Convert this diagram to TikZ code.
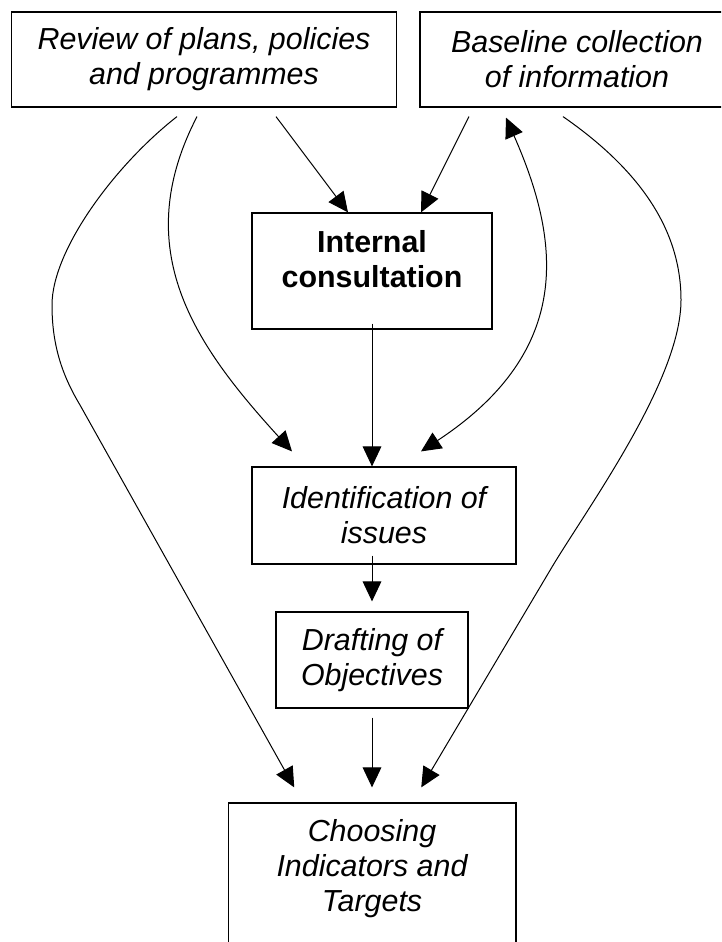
\documentclass[tikz,border=0pt]{standalone}
\usepackage{fontspec}
\setmainfont{Liberation Sans}
\usepackage{tikz}
\usetikzlibrary{arrows.meta}
\usetikzlibrary{calc}

\begin{document}
\begin{tikzpicture}[x=0.75pt,y=0.75pt,yscale=-1,xscale=1]
  \tikzstyle{arrow} = [line width=0.75pt,-{Triangle[length=15pt,width=14pt]}]
  \tikzstyle{twoway} = [line width=0.75pt,{Triangle[length=15pt,width=14pt]}-{Triangle[length=15pt,width=14pt]}]
  \tikzstyle{box} = [draw,line width=0.9pt,rectangle,inner sep=0pt,align=center,font=\fontsize{22.8}{26.25}\selectfont\itshape]
  \tikzstyle{txt} = [inner sep=0pt,align=center,font=\fontsize{22.8}{26.25}\selectfont]
  \useasboundingbox (0,0) rectangle (721,942);
  \clip (0,0) rectangle (721,942);

  %Draw the boxes
  \node[box,minimum width=288.75pt,minimum height=71.25pt] (rev) at (204,59.5) {Review of plans, policies\\and programmes};
  \node[box,minimum width=235.5pt,minimum height=71.25pt] (base) at (577,59.5) {Baseline collection\\of information};
  \node[box,minimum width=180pt,minimum height=87pt] (int) at (372,271) {};
  \node[txt,font=\fontsize{22.8}{26.25}\selectfont\bfseries] (intlbl) at (372,259) {Internal\\consultation};
  \node[box,minimum width=198pt,minimum height=72.75pt] (idn) at (384,515.5) {Identification of\\issues};
  \node[box,minimum width=144pt,minimum height=72pt] (dra) at (372,660) {Drafting of\\Objectives};
  \node[box,minimum width=215.6pt,minimum height=140.25pt] (cho) at (372.25,896.5) {};
  \node[txt,font=\fontsize{22.8}{26.25}\selectfont\itshape] (cholbl) at (372,868.5) {Choosing\\Indicators and\\Targets};

  %Arrow ends
  \coordinate (r0) at ($(rev.south)+(-27,9)$);
  \coordinate (r1) at ($(rev.south)+(72,9)$);
  \coordinate (r2) at ($(rev.south)+(-7,9)$);
  \coordinate (b1) at ($(base.south)+(-108,9)$);
  \coordinate (b2) at ($(base.south)+(-71,10)$);
  \coordinate (b3) at ($(base.south)+(-14,9)$);
  \coordinate (n0) at ($(int.north)+(-24,0)$);
  \coordinate (n1) at ($(int.north)+(49,0)$);
  \coordinate (i0) at ($(idn.north)+(-92,-15)$);
  \coordinate (i1) at ($(idn.north)+(37,-15)$);
  \coordinate (c0) at ($(cho.north)+(-78,-15)$);
  \coordinate (c1) at ($(cho.north)+(49,-15)$);

  %Straight arrows
  \draw[arrow] (r1) -- (n0);
  \draw[arrow] (b1) -- (n1);
  \draw[arrow] ($(int.south)+(0,-6)$) -- (int.south |- idn.north);
  \draw[arrow] ($(idn.south -| dra.north)+(0,-9)$) -- ($(dra.north)+(0,-10)$);
  \draw[arrow] ($(dra.south)+(0,9)$) -- ($(dra.south |- cho.north)+(0,-15)$);

  %Curved arrows
  \draw[arrow] (r2) .. controls (128,250) and (195,345) .. (i0);
  \draw[twoway] (b2) .. controls (560,240) and (575,350) .. (i1);
  \draw[arrow] (r0) .. controls (115,165) and (52,250) .. (52,305) .. controls (52,345) and (62,375) .. (80,405) -- (c0);
  \draw[arrow] (b3) .. controls (640,170) and (681,230) .. (681,300) .. controls (681,380) and (588,507) .. (552,567) -- (c1);
\end{tikzpicture}
\end{document}
